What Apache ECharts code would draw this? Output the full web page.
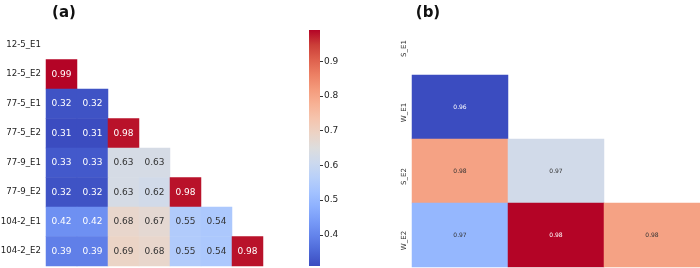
<!DOCTYPE html>
<html>
<head>
<meta charset="utf-8">
<script src="https://cdn.jsdelivr.net/npm/echarts@6/dist/echarts.min.js"></script>
<style>
  html, body { margin: 0; padding: 0; background: #fff; }
  #main { width: 700px; height: 268px; }
</style>
</head>
<body>
<div id="main"></div>
<script>
// panel (a): lower triangle, one array per row (row i has i values)
const labelsA = ['12-5_E1', '12-5_E2', '77-5_E1', '77-5_E2', '77-9_E1', '77-9_E2', '104-2_E1', '104-2_E2']
const rowsA = [
  [],
  [0.99],
  [0.32, 0.32],
  [0.31, 0.31, 0.98],
  [0.33, 0.33, 0.63, 0.63],
  [0.32, 0.32, 0.63, 0.62, 0.98],
  [0.42, 0.42, 0.68, 0.67, 0.55, 0.54],
  [0.39, 0.39, 0.69, 0.68, 0.55, 0.54, 0.98]
]
const colorbarTicks = [0.4, 0.5, 0.6, 0.7, 0.8, 0.9]

// panel (b)
const labelsB = ['S_E1', 'W_E1', 'S_E2', 'W_E2']
const rowsB = [
  [],
  [0.961],
  [0.977, 0.971],
  [0.967, 0.983, 0.977]
]

// matplotlib coolwarm
const coolwarm = [
  '#3b4cc0', '#4d68d7', '#6282ea', '#779af7', '#8db0fe', '#a3c2ff', '#b8d0f9',
  '#ccd9ee', '#dddddd', '#ecd3c5', '#f5c4ad', '#f7b194', '#f49a7b', '#ec7f63',
  '#de604d', '#cb3e38', '#b40426'
]

const toCells = (rows) => {
  const out = []
  rows.forEach((row, r) => {
    row.forEach((v, c) => out.push([c, r, v]))
  })
  return out
}

const cellsA = toCells(rowsA)
const cellsB = toCells(rowsB)
const valsB = cellsB.map((d) => d[2])
const minA = 0.31
const maxA = 0.99
const minB = Math.min(...valsB)
const maxB = Math.max(...valsB)

const withTextColor = (cells, lo, hi) =>
  cells.map((d) => {
    const f = (d[2] - lo) / (hi - lo)
    const light = f < 0.22 || f > 0.82
    return { value: d, label: { color: light ? '#ffffff' : '#333333' } }
  })

// colorbar fill, bottom (min) to top (max)
const barGradient = new echarts.graphic.LinearGradient(
  0, 1, 0, 0,
  coolwarm.map((c, i) => ({ offset: i / (coolwarm.length - 1), color: c }))
)

const font = 'DejaVu Sans'

const myChart = echarts.init(document.getElementById('main'))
const option = {
  animation: false,
  textStyle: { fontFamily: font },
  title: [
    { text: '(a)', left: 59, top: 1, textAlign: 'center', textStyle: { fontFamily: font, fontSize: 15, fontWeight: 'bold', color: '#111' } },
    { text: '(b)', left: 423, top: 1, textAlign: 'center', textStyle: { fontFamily: font, fontSize: 15, fontWeight: 'bold', color: '#111' } }
  ],
  grid: [
    { left: 46, top: 30, width: 248, height: 236, outerBoundsMode: 'none' },
    // 4th column runs past the right edge, as in the original crop
    { left: 412, top: 11, width: 384, height: 256, outerBoundsMode: 'none' },
    { left: 309, top: 30, width: 11, height: 236, outerBoundsMode: 'none' }
  ],
  visualMap: [
    {
      type: 'continuous',
      seriesIndex: 0,
      min: minA,
      max: maxA,
      show: false,
      inRange: { color: coolwarm }
    },
    {
      type: 'continuous',
      seriesIndex: 1,
      min: minB,
      max: maxB,
      show: false,
      inRange: { color: coolwarm }
    }
  ],
  xAxis: [
    {
      gridIndex: 0,
      type: 'category',
      data: labelsA,
      axisLine: { show: false },
      axisTick: { alignWithLabel: true, length: 3, lineStyle: { color: '#333' } },
      axisLabel: { show: false },
      splitLine: { show: false }
    },
    {
      gridIndex: 1,
      type: 'category',
      data: labelsB,
      axisLine: { show: false },
      axisTick: { show: false },
      axisLabel: { show: false }
    },
    {
      gridIndex: 2,
      type: 'category',
      data: ['cb'],
      show: false
    }
  ],
  yAxis: [
    {
      gridIndex: 0,
      type: 'category',
      data: labelsA,
      inverse: true,
      axisLine: { show: false },
      axisTick: { alignWithLabel: true, length: 3, lineStyle: { color: '#333' } },
      axisLabel: { fontSize: 8.6, color: '#222', margin: 5 },
      splitLine: { show: false }
    },
    {
      gridIndex: 1,
      type: 'category',
      data: labelsB,
      inverse: true,
      axisLine: { show: false },
      axisTick: { alignWithLabel: true, length: 2, lineStyle: { color: '#444' } },
      axisLabel: { fontSize: 7, color: '#333', rotate: 90, margin: 4, align: 'center', padding: [0, 11, 0, 0] }
    },
    {
      gridIndex: 2,
      type: 'value',
      position: 'right',
      min: minA,
      max: maxA,
      axisLine: { show: false },
      splitLine: { show: false },
      axisTick: { show: true, length: 3, customValues: colorbarTicks, lineStyle: { color: '#333' } },
      axisLabel: { fontSize: 9, color: '#222', margin: 4, customValues: colorbarTicks, formatter: (v) => v.toFixed(1) }
    }
  ],
  series: [
    {
      type: 'heatmap',
      xAxisIndex: 0,
      yAxisIndex: 0,
      data: withTextColor(cellsA, minA, maxA),
      label: { show: true, fontSize: 9, formatter: (p) => p.value[2].toFixed(2) }
    },
    {
      type: 'heatmap',
      xAxisIndex: 1,
      yAxisIndex: 1,
      data: withTextColor(cellsB, minB, maxB),
      label: { show: true, fontSize: 6, formatter: (p) => p.value[2].toFixed(2) }
    },
    {
      type: 'bar',
      xAxisIndex: 2,
      yAxisIndex: 2,
      data: [maxA],
      barWidth: '100%',
      itemStyle: { color: barGradient },
      silent: true
    }
  ]
}
myChart.setOption(option)
</script>
</body>
</html>
